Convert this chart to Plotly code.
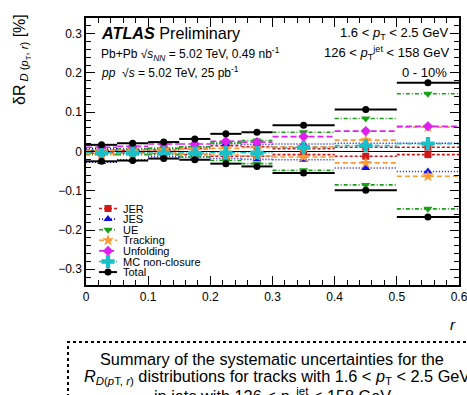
import plotly.graph_objects as go

# ---------------- data ----------------
bin_edges = [0, 0.05, 0.1, 0.15, 0.2, 0.25, 0.3, 0.4, 0.5, 0.6]
bin_centers = [0.025, 0.075, 0.125, 0.175, 0.225, 0.275, 0.35, 0.45, 0.55]

jer_up = [0.003, 0.003, 0.004, 0.008, 0.015, 0.012, 0.007, 0.011, 0.011]
jer_down = [-0.004, -0.004, -0.005, -0.008, -0.012, -0.012, -0.008, -0.012, -0.008]
jes_up = [0.008, 0.007, 0.008, 0.012, 0.020, 0.018, 0.019, 0.021, 0.021]
jes_down = [-0.027, -0.021, -0.013, -0.014, -0.018, -0.020, -0.021, -0.042, -0.051]
ue_up = [0.004, 0.006, 0.008, 0.012, 0.022, 0.028, 0.049, 0.084, 0.147]
ue_down = [-0.008, -0.008, -0.008, -0.014, -0.023, -0.031, -0.048, -0.085, -0.146]
trk_up = [0.002, 0.003, 0.004, 0.006, 0.008, 0.010, 0.012, 0.029, 0.062]
trk_down = [-0.006, -0.005, -0.005, -0.007, -0.009, -0.011, -0.014, -0.029, -0.063]
unf_up = [0.011, 0.013, 0.019, 0.019, 0.026, 0.024, 0.038, 0.052, 0.064]
mcnc = [-0.003, -0.003, -0.004, -0.004, -0.003, -0.003, 0.010, 0.015, 0.020]
tot_up = [0.017, 0.021, 0.024, 0.032, 0.045, 0.049, 0.067, 0.107, 0.175]
tot_down = [-0.025, -0.023, -0.018, -0.021, -0.031, -0.038, -0.055, -0.099, -0.167]

legend_names = ["JER", "JES", "UE", "Tracking", "Unfolding", "MC non-closure", "Total"]
y_ticks = [-0.3, -0.2, -0.1, 0, 0.1, 0.2, 0.3]
x_ticks = [0, 0.1, 0.2, 0.3, 0.4, 0.5, 0.6]

FONT = "Liberation Sans, Arial, sans-serif"

styles = [
    dict(vals=[jer_up, jer_down], color="#d01818", dash="3px,2px", symbol="square", size=7),
    dict(vals=[jes_up, jes_down], color="#1010e0", dash="1px,2px", symbol="triangle-up", size=8),
    dict(vals=[ue_up, ue_down], color="#18a018", dash="4px,2px,1px,2px", symbol="triangle-down", size=8),
    dict(vals=[trk_up, trk_down], color="#ff9933", dash="5px,3px", symbol="star", size=9),
    dict(vals=[unf_up], color="#e020f0", dash="6px,3px", symbol="diamond", size=8),
    dict(vals=[mcnc], color="#18c0c8", dash="5px,2px,1px,2px", symbol="cross", size=11),
    dict(vals=[tot_up, tot_down], color="#000000", dash="solid", symbol="circle", size=7),
]

fig = go.Figure()

for st, name in zip(styles, legend_names):
    lx, ly, mx, my = [], [], [], []
    for arr in st["vals"]:
        for i, v in enumerate(arr):
            lx += [bin_edges[i], bin_edges[i + 1], None]
            ly += [v, v, None]
            mx.append(bin_centers[i])
            my.append(v)
    fig.add_trace(go.Scatter(x=lx, y=ly, mode="lines", showlegend=False,
                             line=dict(color=st["color"], dash=st["dash"],
                                       width=2 if name == "Total" else 1.6)))
    fig.add_trace(go.Scatter(x=mx, y=my, mode="markers", showlegend=False,
                             marker=dict(color=st["color"], symbol=st["symbol"], size=st["size"],
                                         line=dict(width=0))))

# ---------------- custom legend on pixel overlay axes ----------------
leg_y0, leg_dy = 208.5, 10.6
for k, (st, name) in enumerate(zip(styles, legend_names)):
    yy = leg_y0 + k * leg_dy
    fig.add_trace(go.Scatter(x=[99, 117], y=[yy, yy], xaxis="x2", yaxis="y2", mode="lines",
                             showlegend=False,
                             line=dict(color=st["color"], dash=st["dash"],
                                       width=2 if name == "Total" else 1.6)))
    fig.add_trace(go.Scatter(x=[108], y=[yy], xaxis="x2", yaxis="y2", mode="markers",
                             showlegend=False,
                             marker=dict(color=st["color"], symbol=st["symbol"],
                                         size=st["size"], line=dict(width=0))))
    fig.add_annotation(x=121, y=yy, xref="x2", yref="y2", text=name, showarrow=False,
                       xanchor="left", yanchor="middle",
                       font=dict(family=FONT, size=11, color="black"))

axis_common = dict(ticks="inside", showline=True, linecolor="black", linewidth=1.5,
                   mirror="ticks", tickcolor="black", ticklen=9, tickwidth=1,
                   showgrid=False, automargin=False, ticklabeloverflow="allow",
                   tickfont=dict(family=FONT, size=12, color="black"))

fig.update_layout(
    width=467, height=395, showlegend=False,
    margin=dict(l=86, r=8, t=18, b=110),
    paper_bgcolor="white", plot_bgcolor="white",
    font=dict(family=FONT, color="black"),
    xaxis=dict(range=[0, 0.6], tickvals=x_ticks, ticktext=[str(v) for v in x_ticks],
               minor=dict(dtick=0.02, ticklen=5, ticks="inside", tickcolor="black", showgrid=False),
               zeroline=False, **axis_common),
    yaxis=dict(range=[-0.34, 0.34], tickvals=y_ticks,
               ticktext=["\u22120.3", "\u22120.2", "\u22120.1", "0", "0.1", "0.2", "0.3"],
               minor=dict(dtick=0.02, ticklen=5, ticks="inside", tickcolor="black", showgrid=False),
               zeroline=True, zerolinecolor="black", zerolinewidth=1.2, **axis_common),
    xaxis2=dict(range=[86, 459], overlaying="x", visible=False, anchor="y2", automargin=False),
    yaxis2=dict(range=[285, 18], overlaying="y", visible=False, anchor="x2", automargin=False),
)

def pxy(p):
    return (285 - p) / 267

def pxx(p):
    return (p - 86) / 373

ann = []
ann.append(dict(x=pxx(99), y=pxy(33), text="<b><i>ATLAS</i></b> Preliminary",
                xanchor="left", yanchor="middle", font=dict(size=16.2)))
ann.append(dict(x=pxx(99), y=pxy(54), text="Pb+Pb \u221a<i>s</i><sub><i>NN</i></sub> = 5.02 TeV, 0.49 nb<sup>-1</sup>",
                xanchor="left", yanchor="middle", font=dict(size=12)))
ann.append(dict(x=pxx(99), y=pxy(72), text="<i>pp</i>  \u221a<i>s</i> = 5.02 TeV, 25 pb<sup>-1</sup>",
                xanchor="left", yanchor="middle", font=dict(size=12)))
ann.append(dict(x=pxx(451), y=pxy(33), text="1.6 < <i>p</i><sub>T</sub> < 2.5 GeV",
                xanchor="right", yanchor="middle", font=dict(size=13)))
ann.append(dict(x=pxx(451), y=pxy(53), text="126 < <i>p</i><sub>T</sub><sup>jet</sup> < 158 GeV",
                xanchor="right", yanchor="middle", font=dict(size=13)))
ann.append(dict(x=pxx(449), y=pxy(73), text="0 - 10%",
                xanchor="right", yanchor="middle", font=dict(size=13)))
ann.append(dict(x=pxx(458), y=pxy(324), text="<i>r</i>", xanchor="right", yanchor="middle",
                font=dict(size=15)))
ann.append(dict(x=pxx(22), y=pxy(60), text="\u03b4R<sub> <i>D</i> (<i>p</i><sub>T</sub>, <i>r</i>)</sub> [%]",
                textangle=-90, xanchor="center", yanchor="middle", font=dict(size=16)))
ann.append(dict(x=pxx(272), y=pxy(359), text="Summary of the systematic uncertainties for the",
                xanchor="center", yanchor="middle", font=dict(size=16.3)))
ann.append(dict(x=pxx(82), y=pxy(377),
                text="<i>R</i><sub><i>D</i>(<i>p</i>T, <i>r</i>)</sub> distributions for tracks with 1.6 < <i>p</i><sub>T</sub> < 2.5 GeV",
                xanchor="left", yanchor="middle", font=dict(size=16.3)))
ann.append(dict(x=pxx(272), y=pxy(396), text="in jets with 126 < <i>p</i><sub>T</sub><sup>jet</sup> < 158 GeV",
                xanchor="center", yanchor="middle", font=dict(size=16.3)))
for a in ann:
    a.update(xref="paper", yref="paper", showarrow=False)
    a["font"].update(family=FONT, color="black")
    fig.add_annotation(**a)

fig.add_shape(type="rect", xref="paper", yref="paper",
              x0=pxx(68), x1=pxx(478), y0=pxy(400), y1=pxy(342),
              line=dict(color="black", width=2, dash="dot"))

fig.write_html("out.html")
